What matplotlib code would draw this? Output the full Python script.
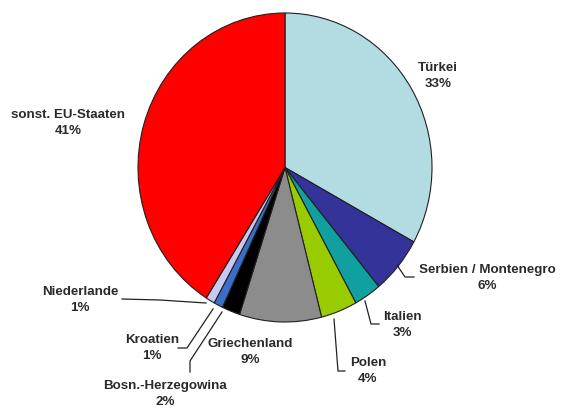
import matplotlib.pyplot as plt

labels = ["Türkei", "Serbien / Montenegro", "Italien", "Polen", "Griechenland",
          "Bosn.-Herzegowina", "Kroatien", "Niederlande", "sonst. EU-Staaten"]
shares = [33, 6, 3, 4, 9, 2, 1, 1, 41]
colors = ["#b3dce2", "#333399", "#11a0a0", "#99cc00", "#8c8c8c",
          "#000000", "#3a6ec8", "#c8c8f0", "#ff0000"]

# label centres and leader lines in pixel coordinates of the 564x410 image
label_pos = [(438, 76), (487, 278), (402, 325), (368, 371), (250, 352),
             (165, 394), (152, 348), (80, 300), (68, 123)]
leaders = {
    1: [(397, 266), (405, 278), (414, 278)],
    2: [(365, 302), (371, 325), (379, 325)],
    3: [(334, 320), (338, 372), (345, 372)],
    5: [(222, 313), (190, 362), (190, 373)],
    6: [(213, 310), (187, 349), (178, 349)],
    7: [(206, 304), (160, 301), (122, 300)],
}

cx, cy, rx, ry = 285, 168.5, 147, 154.5
W, H = 564, 410

def to_data(px, py):
    return (px - cx) / rx, (cy - py) / ry

fig = plt.figure(figsize=(5.64, 4.10), dpi=100)
ax = fig.add_axes([(cx - rx) / W, (H - cy - ry) / H, 2 * rx / W, 2 * ry / H])
ax.pie(shares, colors=colors, startangle=90, counterclock=False, radius=1,
       wedgeprops=dict(edgecolor="#202020", linewidth=0.8))
ax.set_aspect("auto")
ax.set_xlim(-1, 1)
ax.set_ylim(-1, 1)

for i, (lab, val) in enumerate(zip(labels, shares)):
    x, y = to_data(*label_pos[i])
    ax.text(x, y, f"{lab}\n{val}%", ha="center", va="center", fontsize=9.6,
            fontweight="bold", family="Liberation Sans", color="#2a2a2a",
            linespacing=1.35, clip_on=False)

for i, pts in leaders.items():
    xs, ys = zip(*[to_data(*p) for p in pts])
    ax.plot(xs, ys, color="#222222", linewidth=0.9, clip_on=False)

fig.savefig("out.png", dpi=100)
